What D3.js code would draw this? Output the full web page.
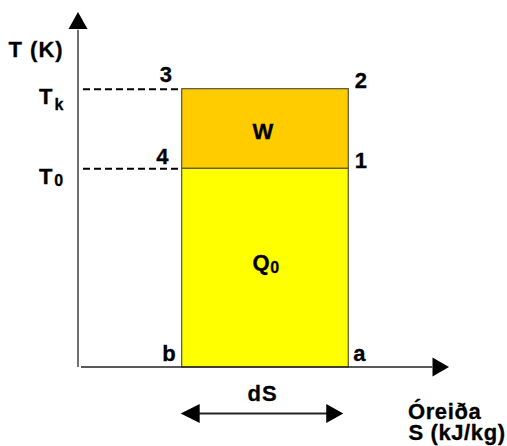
<!DOCTYPE html>
<html>
<head>
<meta charset="utf-8">
<script src="https://cdn.jsdelivr.net/npm/d3@7"></script>
<style>
  html, body { margin: 0; padding: 0; background: #fff; }
  svg { display: block; }
  text { font-family: "Liberation Sans", Arial, sans-serif; font-weight: bold; fill: #000; stroke: #000; stroke-width: 0.3px; }
</style>
</head>
<body>
<svg id="chart" width="507" height="446"></svg>
<script>
// ---- data ----
const regions = ["Q0", "W"];            // areas in the T-S diagram
const regionLow = [0, 56];               // lower temperature bound of each area
const regionHigh = [56, 78.4];           // upper temperature bound
const regionColors = ["#FFFF00", "#FFCC00"];
const entropyRange = [27.95, 72.85];     // S at points b and a
const tempLevels = ["T0", "Tk"];
const tempValues = [56, 78.4];
const cornerLabels = ["b", "a", "1", "2", "3", "4"];
const axisTitleX = ["Óreiða", "S (kJ/kg)"];
const axisTitleY = "T (K)";

// ---- scales ----
const svg = d3.select("#chart");
const x = d3.scaleLinear().domain([0, 100]).range([78, 449]);
const y = d3.scaleLinear().domain([0, 100]).range([367, 12]);

// rectangles
svg.selectAll("rect.region").data(regions).join("rect")
  .attr("class", "region")
  .attr("x", x(entropyRange[0]))
  .attr("width", x(entropyRange[1]) - x(entropyRange[0]))
  .attr("y", (d, i) => y(regionHigh[i]))
  .attr("height", (d, i) => y(regionLow[i]) - y(regionHigh[i]))
  .attr("fill", (d, i) => regionColors[i])
  .attr("stroke", "#55553a")
  .attr("stroke-width", 1.2);

// dashed temperature guides
svg.selectAll("line.guide").data(tempValues).join("line")
  .attr("class", "guide")
  .attr("x1", x(0) + 5).attr("x2", x(entropyRange[0]))
  .attr("y1", d => y(d) + 0.5).attr("y2", d => y(d) + 0.5)
  .attr("stroke", "#000").attr("stroke-width", 2)
  .attr("stroke-dasharray", "7,4");

// axes
svg.append("line").attr("x1", x(0)).attr("x2", x(0))
  .attr("y1", y(95)).attr("y2", y(0))
  .attr("stroke", "#222").attr("stroke-width", 1.3);
svg.append("line").attr("x1", x(0) + 3).attr("x2", x(95.5))
  .attr("y1", y(0)).attr("y2", y(0))
  .attr("stroke", "#222").attr("stroke-width", 1.6);
// arrowheads
svg.append("path")
  .attr("d", `M${x(0)},${y(100)} L${x(0) - 9.5},${y(100) + 17} L${x(0) + 9.5},${y(100) + 17} Z`)
  .attr("fill", "#000");
svg.append("path")
  .attr("d", `M${x(100)},${y(0)} L${x(100) - 16.5},${y(0) - 9.5} L${x(100) - 16.5},${y(0) + 9.5} Z`)
  .attr("fill", "#000");

// dS arrow
const dsY = 413.5;
svg.append("line").attr("x1", x(entropyRange[0]) + 10).attr("x2", x(entropyRange[1]) - 14)
  .attr("y1", dsY).attr("y2", dsY).attr("stroke", "#222").attr("stroke-width", 1.8);
svg.append("path")
  .attr("d", `M${x(entropyRange[0]) - 1},${dsY} L${x(entropyRange[0]) + 18},${dsY - 9.5} L${x(entropyRange[0]) + 18},${dsY + 9.5} Z`)
  .attr("fill", "#000");
svg.append("path")
  .attr("d", `M${x(entropyRange[1]) - 5},${dsY} L${x(entropyRange[1]) - 22},${dsY - 9.5} L${x(entropyRange[1]) - 22},${dsY + 9.5} Z`)
  .attr("fill", "#000");

// text helper
function label(tx, ty, main, sub, dx, dy, anchor) {
  const t = svg.append("text").attr("x", tx).attr("y", ty)
    .attr("font-size", 22).attr("letter-spacing", 1)
    .attr("text-anchor", anchor || "start").text(main);
  if (sub) {
    t.append("tspan").attr("font-size", 16).attr("dx", dx).attr("dy", dy).text(sub);
  }
  return t;
}

// axis titles
label(8.5, 57, axisTitleY);
const xt = svg.append("text").attr("font-size", 22).attr("letter-spacing", 0.6);
xt.selectAll("tspan").data(axisTitleX).join("tspan")
  .attr("x", (d, i) => i === 0 ? 408 : 408.5)
  .attr("y", (d, i) => i === 0 ? 419 : 439.5)
  .text(d => d);

// temperature labels
label(39, y(tempValues[1]) + 15.5, "T", "k", 1, 6);
label(39, y(tempValues[0]) + 15.5, "T", "0", 0.8, 2.7);

// region labels
label(263.5, (y(regionHigh[1]) + y(regionLow[1])) / 2 + 11, "W", null, 0, 0, "middle");
label(252.5, 270, "Q", "0", -0.5, 3);

// corner labels
const cornerX = [x(entropyRange[0]) - 19.5, x(entropyRange[1]) + 5, x(entropyRange[1]) + 6.5,
                 x(entropyRange[1]) + 6.5, x(entropyRange[0]) - 22, x(entropyRange[0]) - 25.5];
const cornerY = [y(0) - 6.5, y(0) - 6.5, y(tempValues[0]) - 0.5, y(tempValues[1]) - 0.5,
                 y(tempValues[1]) - 6.5, y(tempValues[0]) - 4.5];
cornerLabels.forEach((c, i) => label(cornerX[i], cornerY[i], c));

label(247.5, 401, "dS");
</script>
</body>
</html>
